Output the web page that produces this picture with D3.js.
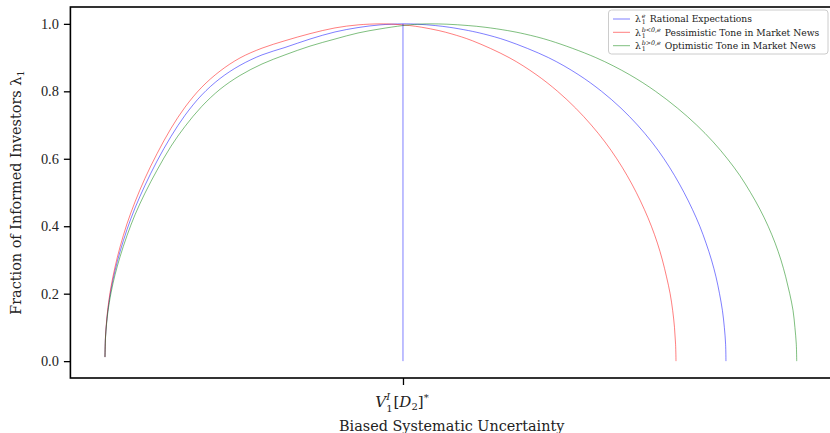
<!DOCTYPE html>
<html><head><meta charset="utf-8">
<script src="https://cdn.jsdelivr.net/npm/d3@7"></script>
<style>body{margin:0;background:#fff} svg{display:block}</style>
</head><body><svg id="c" width="830" height="433"></svg>
<script>
// ---- data ----
const yTicks = [0.0, 0.2, 0.4, 0.6, 0.8, 1.0];
const xTickValue = 43.08;            // position of V_1^I[D_2]^*
const optimumLine = [0, 1];          // vertical line at the optimum

// biased systematic uncertainty (arbitrary units) and fraction of informed investors, per series
const rationalX = [0, 0.07, 0.22, 0.43, 0.87, 1.45, 2.17, 3.18, 4.34, 5.78, 7.52, 9.54, 11.57, 13.98, 16.63, 19.52, 22.70, 26.02, 29.64, 33.25, 36.58, 39.76, 43.08,
                   45.18, 47.75, 49.76, 52.57, 54.76, 58.12, 64.10, 68.40, 71.79, 74.60, 76.98, 79.04, 80.81, 82.35, 83.71, 84.92, 85.99, 86.89, 87.68, 88.33, 88.84, 89.26, 89.54, 89.72, 89.77];
const rationalL = [0.012, 0.070, 0.112, 0.153, 0.212, 0.268, 0.324, 0.390, 0.454, 0.521, 0.593, 0.666, 0.729, 0.789, 0.838, 0.877, 0.908, 0.930, 0.955, 0.976, 0.989, 0.997, 1.0,
                   0.999, 0.995, 0.99, 0.98, 0.97, 0.95, 0.90, 0.85, 0.80, 0.75, 0.70, 0.65, 0.60, 0.55, 0.50, 0.45, 0.40, 0.35, 0.30, 0.25, 0.20, 0.15, 0.10, 0.05, 0.0];

const pessimisticX = [0, 0.07, 0.22, 0.43, 0.87, 1.45, 2.17, 3.18, 4.34, 5.78, 7.52, 9.54, 11.57, 13.98, 16.63, 19.52, 22.70, 26.02, 29.64, 33.25, 36.58, 39.76,
                      41.66, 44.04, 45.79, 48.27, 50.15, 53.11, 58.42, 62.31, 65.43, 68.05, 70.30, 72.28, 73.99, 75.49, 76.81, 77.97, 78.99, 79.86, 80.58, 81.18, 81.70, 82.07, 82.33, 82.49, 82.55];
const pessimisticL = [0.012, 0.072, 0.116, 0.159, 0.220, 0.279, 0.338, 0.407, 0.472, 0.542, 0.615, 0.690, 0.753, 0.812, 0.860, 0.899, 0.928, 0.950, 0.971, 0.988, 0.997, 1.0,
                      0.999, 0.995, 0.99, 0.98, 0.97, 0.95, 0.90, 0.85, 0.80, 0.75, 0.70, 0.65, 0.60, 0.55, 0.50, 0.45, 0.40, 0.35, 0.30, 0.25, 0.20, 0.15, 0.10, 0.05, 0.0];

const optimisticX = [0, 0.07, 0.22, 0.43, 0.87, 1.45, 2.17, 3.18, 4.34, 5.78, 7.52, 9.54, 11.57, 13.98, 16.63, 19.52, 22.70, 26.02, 29.64, 33.25, 36.58, 39.76, 43.08, 45.25, 46.99,
                     49.43, 52.50, 54.94, 58.22, 60.67, 64.38, 70.95, 75.78, 79.59, 82.77, 85.53, 87.92, 89.98, 91.79, 93.32, 94.69, 95.87, 96.88, 97.72, 98.41, 98.99, 99.47, 99.74, 99.94, 100];
const optimisticL = [0.012, 0.067, 0.108, 0.147, 0.202, 0.256, 0.309, 0.372, 0.434, 0.498, 0.566, 0.637, 0.696, 0.755, 0.806, 0.847, 0.881, 0.908, 0.934, 0.955, 0.973, 0.985, 0.995, 0.999, 1.0,
                     0.999, 0.995, 0.99, 0.98, 0.97, 0.95, 0.90, 0.85, 0.80, 0.75, 0.70, 0.65, 0.60, 0.55, 0.50, 0.45, 0.40, 0.35, 0.30, 0.25, 0.20, 0.15, 0.10, 0.05, 0.0];

const legendLabels = ["Rational Expectations", "Pessimistic Tone in Market News", "Optimistic Tone in Market News"];
const legendSup = ["e", "b<0,e", "b>0,e"];

// ---- layout ----
const svg = d3.select("#c");
const W = 830, H = 433;
const plot = {left: 70.4, right: 831.3, top: 7, bottom: 378};
const serif = "'DejaVu Serif', serif";
const numFont = "'Liberation Serif', 'DejaVu Serif', serif";
const colors = {rational: "#0000ff", pessimistic: "#ff0000", optimistic: "#008000"};

const x = d3.scaleLinear().domain([-5, 105]).range([plot.left, plot.right]);
const y = d3.scaleLinear().domain([-0.05, 1.05]).range([plot.bottom, plot.top]);

svg.append("rect").attr("width", W).attr("height", H).attr("fill", "#fff");

const series = [
  {key: "rational", xs: rationalX, ls: rationalL},
  {key: "pessimistic", xs: pessimisticX, ls: pessimisticL},
  {key: "optimistic", xs: optimisticX, ls: optimisticL}
];

const line = d3.line().x(d => x(d[0])).y(d => y(d[1])).curve(d3.curveCatmullRom.alpha(0.5));
const g = svg.append("g");
series.forEach(s => {
  g.append("path")
    .attr("d", line(s.xs.map((v, i) => [v, s.ls[i]])))
    .attr("fill", "none").attr("stroke", colors[s.key])
    .attr("stroke-opacity", 0.5).attr("stroke-width", 1);
});
g.append("line")
  .attr("x1", x(xTickValue)).attr("x2", x(xTickValue))
  .attr("y1", y(optimumLine[0])).attr("y2", y(optimumLine[1]))
  .attr("stroke", colors.rational).attr("stroke-opacity", 0.5).attr("stroke-width", 1);

// ---- axes ----
const yAxis = d3.axisLeft(y).tickValues(yTicks).tickFormat(d3.format(".1f")).tickSize(6.5).tickPadding(5);
const yg = svg.append("g").attr("transform", `translate(${plot.left},0)`).call(yAxis);
yg.select(".domain").remove();
yg.selectAll(".tick line").attr("stroke", "#000").attr("stroke-width", 1.3);
yg.selectAll(".tick text").attr("font-family", numFont).attr("font-size", 14.4).attr("fill", "#222");

const xAxis = d3.axisBottom(x).tickValues([xTickValue]).tickFormat("").tickSize(7);
const xg = svg.append("g").attr("transform", `translate(0,${plot.bottom})`).call(xAxis);
xg.select(".domain").remove();
xg.selectAll(".tick line").attr("stroke", "#000").attr("stroke-width", 1.3);

// frame
svg.append("rect")
  .attr("x", plot.left).attr("y", plot.top)
  .attr("width", plot.right - plot.left).attr("height", plot.bottom - plot.top)
  .attr("fill", "none").attr("stroke", "#000").attr("stroke-width", 1.6);

// x tick label V_1^I[D_2]^*
(function() {
  const t = svg.append("text").attr("font-family", serif).attr("font-size", 15)
    .attr("fill", "#222").attr("y", 407).attr("text-anchor", "middle").attr("x", x(xTickValue) - 1);
  t.append("tspan").attr("font-style", "italic").text("V");
  t.append("tspan").attr("font-style", "italic").attr("font-size", 10).attr("dy", -7).text("I");
  t.append("tspan").attr("font-size", 10).attr("dx", -4).attr("dy", 11.5).text("1");
  t.append("tspan").attr("dx", 1).attr("dy", -4.5).text("[");
  t.append("tspan").attr("font-style", "italic").text("D");
  t.append("tspan").attr("font-size", 10).attr("dy", 3).text("2");
  t.append("tspan").attr("dy", -3).text("]");
  t.append("tspan").attr("font-size", 10).attr("dy", -6).text("*");
})();

svg.append("text").attr("font-family", serif).attr("font-size", 14.4).attr("fill", "#222")
  .attr("x", (plot.left + 830) / 2 + 1.5).attr("y", 431).attr("text-anchor", "middle")
  .text("Biased Systematic Uncertainty");

// y label
(function() {
  const t = svg.append("text").attr("font-family", serif).attr("font-size", 14.4).attr("fill", "#222")
    .attr("text-anchor", "middle")
    .attr("transform", `translate(21,${(plot.top + plot.bottom) / 2}) rotate(-90)`);
  t.append("tspan").text("Fraction of Informed Investors λ");
  t.append("tspan").attr("font-size", 10).attr("dy", 3).text("1");
})();

// ---- legend ----
const lg = svg.append("g");
lg.append("rect").attr("x", 608.5).attr("y", 10).attr("width", 219.5).attr("height", 44)
  .attr("rx", 3).attr("fill", "#fff").attr("fill-opacity", 0.8)
  .attr("stroke", "#cccccc").attr("stroke-width", 1);
const legendRowY = [19, 32.3, 45.7];
series.forEach((s, i) => {
  const ry = legendRowY[i];
  lg.append("line").attr("x1", 613).attr("x2", 630).attr("y1", ry).attr("y2", ry)
    .attr("stroke", colors[s.key]).attr("stroke-opacity", 0.5).attr("stroke-width", 1);
  const fs = 9.2;
  const lam = lg.append("text").attr("font-family", serif).attr("font-size", fs).attr("fill", "#222")
    .attr("x", 635).attr("y", ry + 3.3).text("λ");
  const lw = lam.node().getComputedTextLength();
  const sup = lg.append("text").attr("font-family", serif).attr("font-size", 6.3).attr("fill", "#222")
    .attr("font-style", "italic").attr("x", 635 + lw + 0.8).attr("y", ry - 0.8).text(legendSup[i]);
  const sub = lg.append("text").attr("font-family", serif).attr("font-size", 6.3).attr("fill", "#222")
    .attr("x", 635 + lw + 0.8).attr("y", ry + 5.2).text("1");
  const w = Math.max(sup.node().getComputedTextLength(), sub.node().getComputedTextLength());
  lg.append("text").attr("font-family", serif).attr("font-size", fs).attr("fill", "#222")
    .attr("x", 635 + lw + 0.8 + w + 4).attr("y", ry + 3.3).text(legendLabels[i]);
});
</script></body></html>
